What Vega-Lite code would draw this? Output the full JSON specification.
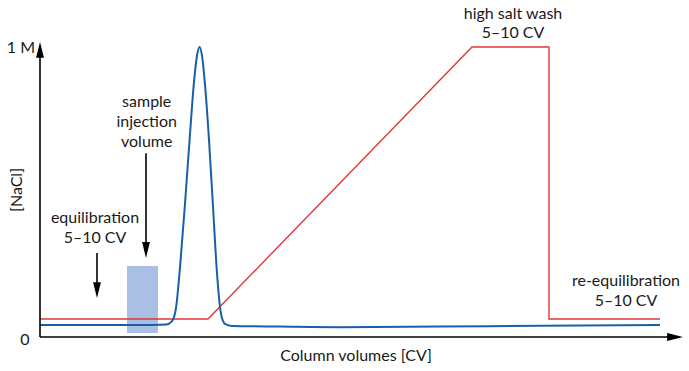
{
  "$schema": "https://vega.github.io/schema/vega-lite/v6.json",
  "width": 689,
  "height": 371,
  "autosize": "none",
  "padding": 0,
  "background": "white",
  "config": {"view": {"stroke": null}},
  "datasets": {
    "salt": [
      {"x": 0, "y": 0.062}, {"x": 16.8, "y": 0.062}, {"x": 43.2, "y": 1.0},
      {"x": 50.9, "y": 1.0}, {"x": 50.9, "y": 0.062}, {"x": 62, "y": 0.062}
    ],
    "uv": [
      {"x": 0, "y": 0.041}, {"x": 10, "y": 0.041}, {"x": 12.6, "y": 0.043},
      {"x": 13.2, "y": 0.055}, {"x": 13.6, "y": 0.1}, {"x": 14.0, "y": 0.24},
      {"x": 14.5, "y": 0.46}, {"x": 15.0, "y": 0.7}, {"x": 15.4, "y": 0.88},
      {"x": 15.7, "y": 0.97}, {"x": 15.95, "y": 1.0}, {"x": 16.2, "y": 0.97},
      {"x": 16.5, "y": 0.87}, {"x": 16.9, "y": 0.68}, {"x": 17.3, "y": 0.45},
      {"x": 17.7, "y": 0.22}, {"x": 18.1, "y": 0.08}, {"x": 18.5, "y": 0.045},
      {"x": 19.2, "y": 0.038}, {"x": 24, "y": 0.036}, {"x": 30, "y": 0.034},
      {"x": 40, "y": 0.036}, {"x": 50, "y": 0.039}, {"x": 62, "y": 0.041}
    ],
    "box": [{"x": 8.7, "x2": 11.8, "y": 0.014, "y2": 0.245}],
    "shafts": [
      {"x": 0, "y": 0, "x2": 0, "y2": 0.99},
      {"x": 0, "y": 0, "x2": 63.5, "y2": 0},
      {"x": 5.7, "y": 0.29, "x2": 5.7, "y2": 0.17},
      {"x": 10.6, "y": 0.634, "x2": 10.6, "y2": 0.31}
    ],
    "heads": [
      {"x": 0, "y": 0.99, "dir": "up"},
      {"x": 63.5, "y": 0, "dir": "right"},
      {"x": 5.7, "y": 0.162, "dir": "down"},
      {"x": 10.6, "y": 0.3, "dir": "down"}
    ],
    "labels": [
      {"x": 5.5, "y": 0.41, "t": "equilibration"},
      {"x": 5.5, "y": 0.341, "t": "5–10 CV"},
      {"x": 10.67, "y": 0.81, "t": "sample"},
      {"x": 10.67, "y": 0.743, "t": "injection"},
      {"x": 10.67, "y": 0.674, "t": "volume"},
      {"x": 47.3, "y": 1.114, "t": "high salt wash"},
      {"x": 47.3, "y": 1.048, "t": "5–10 CV"},
      {"x": 58.6, "y": 0.193, "t": "re-equilibration"},
      {"x": 58.6, "y": 0.124, "t": "5–10 CV"},
      {"x": -1.5, "y": -0.01, "t": "0"},
      {"x": 31.6, "y": -0.066, "t": "Column volumes [CV]"}
    ],
    "ylab": [{"x": -0.5, "y": 0.997, "t": "1 M"}],
    "yname": [{"x": -2.3, "y": 0.507, "t": "[NaCl]"}]
  },
  "encoding": {
    "x": {"field": "x", "type": "quantitative", "scale": {"domain": [-4, 64.9], "nice": false, "zero": false}, "axis": null},
    "y": {"field": "y", "type": "quantitative", "scale": {"domain": [-0.1172, 1.1621], "nice": false, "zero": false}, "axis": null}
  },
  "layer": [
    {
      "data": {"name": "box"},
      "mark": {"type": "rect", "color": "#a9bfe3"},
      "encoding": {"x2": {"field": "x2"}, "y2": {"field": "y2"}}
    },
    {
      "data": {"name": "salt"},
      "mark": {"type": "line", "color": "#e2373a", "strokeWidth": 1.4},
      "encoding": {"order": {"value": 0}}
    },
    {
      "data": {"name": "uv"},
      "mark": {"type": "line", "color": "#1a5fa6", "strokeWidth": 2, "interpolate": "monotone"},
      "encoding": {"order": {"value": 0}}
    },
    {
      "data": {"name": "shafts"},
      "mark": {"type": "rule", "color": "black", "strokeWidth": 1.6},
      "encoding": {"x2": {"field": "x2"}, "y2": {"field": "y2"}}
    },
    {
      "data": {"name": "heads"},
      "mark": {"type": "point", "filled": true, "opacity": 1, "color": "black", "size": 250},
      "encoding": {
        "shape": {
          "field": "dir", "type": "nominal", "legend": null,
          "scale": {"domain": ["up", "down", "right"], "range": ["M0,-1L0.5,1L-0.5,1Z", "M0,1L0.5,-1L-0.5,-1Z", "M1,0L-1,0.5L-1,-0.5Z"]}
        }
      }
    },
    {
      "data": {"name": "labels"},
      "mark": {"type": "text", "font": "Lato", "fontSize": 16, "color": "#1a1a1a", "align": "center", "baseline": "middle"},
      "encoding": {"text": {"field": "t"}}
    },
    {
      "data": {"name": "ylab"},
      "mark": {"type": "text", "font": "Lato", "fontSize": 16, "color": "#1a1a1a", "align": "right", "baseline": "middle"},
      "encoding": {"text": {"field": "t"}}
    },
    {
      "data": {"name": "yname"},
      "mark": {"type": "text", "font": "Lato", "fontSize": 16, "color": "#1a1a1a", "align": "center", "baseline": "middle", "angle": 270},
      "encoding": {"text": {"field": "t"}}
    }
  ]
}
